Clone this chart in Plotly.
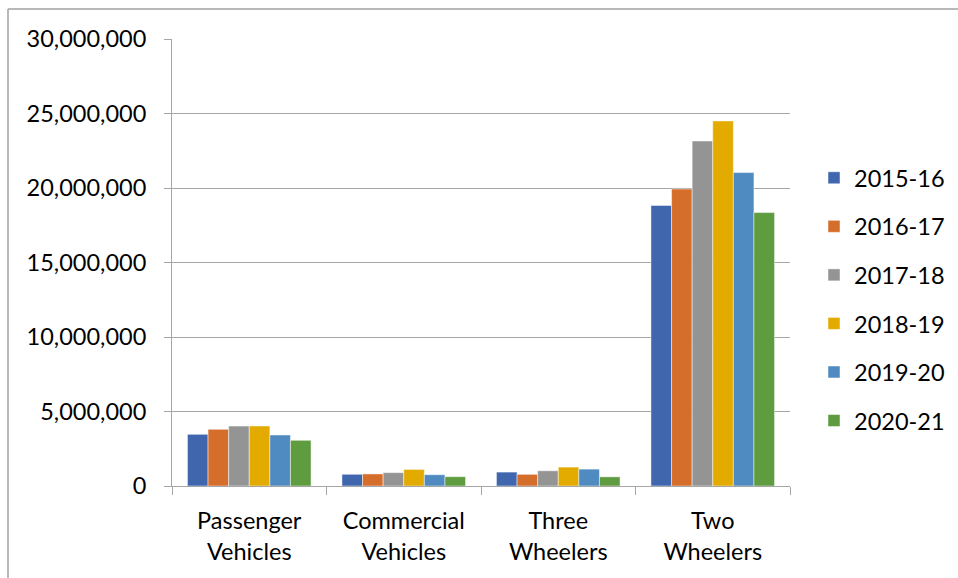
import plotly.graph_objects as go

categories = ["Passenger<br>Vehicles", "Commercial<br>Vehicles", "Three<br>Wheelers", "Two<br>Wheelers"]
years = ["2015-16", "2016-17", "2017-18", "2018-19", "2019-20", "2020-21"]
values_2015_16 = [3465045, 786692, 934104, 18830227]
values_2016_17 = [3801670, 810253, 783721, 19933739]
values_2017_18 = [4020267, 895448, 1022181, 23154838]
values_2018_19 = [4028471, 1112405, 1268833, 24499777]
values_2019_20 = [3424564, 756725, 1133858, 21036294]
values_2020_21 = [3062280, 624939, 614613, 18349941]
series = [values_2015_16, values_2016_17, values_2017_18, values_2018_19, values_2019_20, values_2020_21]
colors = ["#4066AE", "#D56E2B", "#949494", "#E3AB00", "#4F8BC0", "#5F9B3F"]
y_ticks = [0, 5000000, 10000000, 15000000, 20000000, 25000000, 30000000]

FONT = "Lato"
FS = 23.5
fig = go.Figure()
for i, (yr, vals) in enumerate(zip(years, series)):
    fig.add_trace(go.Bar(
        x=categories, y=vals, name=yr, legendgroup=yr,
        marker=dict(color=colors[i], line=dict(color="rgba(255,255,255,0.6)", width=0.8)),
    ))

L, R, T, B = 172, 168, 39, 92
W, H = 958, 578
pw, ph = W - L - R, H - T - B

def px_x(p):
    return (p - L) / pw

def px_y(p):
    return (H - B - p) / ph

fig.update_layout(
    width=W, height=H,
    margin=dict(l=L, r=R, t=T, b=B, autoexpand=False),
    paper_bgcolor="white", plot_bgcolor="white",
    barmode="group", bargap=0.2, bargroupgap=0,
    font=dict(family=FONT, size=FS, color="#000000"),
    showlegend=True,
    legend=dict(
        x=px_x(814), y=px_y(156), xanchor="left", yanchor="top",
        font=dict(family=FONT, size=FS, color="#000000"),
        tracegroupgap=15, itemwidth=30, bgcolor="rgba(0,0,0,0)",
    ),
    xaxis=dict(
        showline=True, linecolor="#A6A6A6", linewidth=1,
        ticks="outside", ticklen=8, tickcolor="#A6A6A6", tickwidth=1,
        tickson="boundaries", showgrid=False,
        tickfont=dict(family=FONT, size=FS, color="#000000"),
        ticklabelstandoff=14,
        automargin=False,
    ),
    yaxis=dict(
        range=[0, 30000000], tickvals=y_ticks,
        tickformat=",d",
        showline=True, linecolor="#A6A6A6", linewidth=1,
        ticks="outside", ticklen=7, tickcolor="#A6A6A6", tickwidth=1,
        showgrid=True, gridcolor="#A6A6A6", gridwidth=1,
        zeroline=False,
        tickfont=dict(family=FONT, size=FS, color="#000000"),
        ticklabelstandoff=13,
        automargin=False,
    ),
    shapes=[
        dict(type="line", xref="paper", yref="paper", x0=px_x(8), x1=px_x(990), y0=px_y(9), y1=px_y(9),
             line=dict(color="#A0A0A0", width=1.5)),
        dict(type="line", xref="paper", yref="paper", x0=px_x(8), x1=px_x(8), y0=px_y(9), y1=px_y(600),
             line=dict(color="#A0A0A0", width=1.5)),
    ],
)

fig.write_html("out.html")
